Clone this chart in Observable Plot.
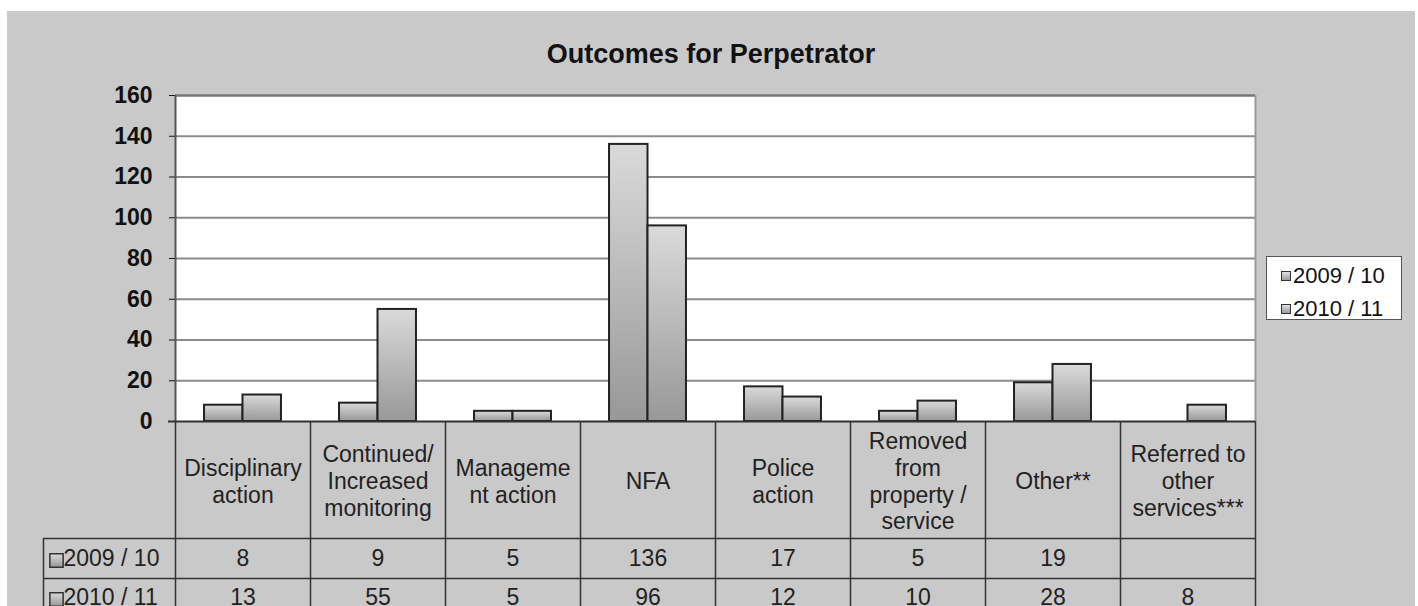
<!DOCTYPE html>
<html>
<head>
<meta charset="utf-8">
<script src="https://cdn.jsdelivr.net/npm/d3@7"></script>
<script src="https://cdn.jsdelivr.net/npm/@observablehq/plot@0.6"></script>
<style>
  html, body { margin: 0; padding: 0; background: #fff; width: 1418px; height: 606px; overflow: hidden; }
  #chart { position: absolute; left: 7px; top: 11px; width: 1408px; height: 595px; background: #c9c9c9;
           font-family: "Liberation Sans", Arial, sans-serif; overflow: hidden; }
  #title { height: 60px; box-sizing: border-box; padding-top: 30px; line-height: 26px; text-align: center;
           font-weight: bold; font-size: 27px; color: #111; }
  #legend { position: absolute; left: 1259px; top: 245px; width: 136px; height: 64px; box-sizing: border-box;
            background: #fff; border: 1px solid #555; font-size: 22px; color: #111; }
  #legend .item { position: absolute; left: 14px; height: 24px; display: flex; align-items: center; }
  #legend .sw { width: 8px; height: 8px; border: 1.5px solid #333; background: linear-gradient(#e0e0e0, #9a9a9a); margin-right: 2px; }
  #chart svg [aria-label^="y-axis"] text { font-weight: bold; }
</style>
</head>
<body>
<div id="chart">
  <div id="title">Outcomes for Perpetrator</div>
  <div id="plot"></div>
  <div id="legend"></div>
</div>
<script>
// ---- data ----
const categories = ["Disciplinary action", "Continued/Increased monitoring", "Management action", "NFA",
                    "Police action", "Removed from property / service", "Other**", "Referred to other services***"];
const headerLabels = ["Disciplinary\naction", "Continued/\nIncreased\nmonitoring", "Manageme\nnt action", "NFA",
                      "Police\naction", "Removed\nfrom\nproperty /\nservice", "Other**", "Referred to\nother\nservices***"];
const seriesNames = ["2009 / 10", "2010 / 11"];
const values2009 = [8, 9, 5, 136, 17, 5, 19, null];
const values2010 = [13, 55, 5, 96, 12, 10, 28, 8];
const yTicks = [0, 20, 40, 60, 80, 100, 120, 140, 160];

// ---- layout ----
const W = 1408, H = 535, ML = 168, MR = 160, MT = 24, MB = 185;
const bw = (W - ML - MR) / categories.length;
const outer = bw * 0.215;
const lineColor = "#333";
const row1 = 144, row2 = 183;

const rows2009 = categories.map((c, i) => ({category: c, value: values2009[i]})).filter(d => d.value != null);
const rows2010 = categories.map((c, i) => ({category: c, value: values2010[i]})).filter(d => d.value != null);
const fmt = v => v == null ? "" : String(v);

const defs = () => {
  const d = d3.create("svg:defs");
  const g = d.append("linearGradient").attr("id", "barGrad").attr("x1", 0).attr("y1", 0).attr("x2", 0).attr("y2", 1);
  g.append("stop").attr("offset", "0%").attr("stop-color", "#dadada");
  g.append("stop").attr("offset", "100%").attr("stop-color", "#989898");
  return d.node();
};

const first = categories[0], last = categories[categories.length - 1];

const plot = Plot.plot({
  width: W, height: H,
  marginLeft: ML, marginRight: MR, marginTop: MT, marginBottom: MB,
  style: {background: "transparent", fontFamily: "'Liberation Sans', Arial, sans-serif", fontSize: "23px", color: "#111", overflow: "visible"},
  x: {type: "band", domain: categories, padding: 0, axis: null},
  y: {domain: [0, 160], ticks: yTicks, tickSize: 6, tickPadding: 17, label: null, tickFormat: d3.format("d")},
  marks: [
    defs,
    Plot.frame({fill: "white", stroke: "none"}),
    Plot.ruleY(yTicks.filter(t => t > 0 && t < 160), {stroke: "#8c8c8c", strokeWidth: 2}),
    Plot.ruleY([160], {stroke: "#777", strokeWidth: 2.5}),
    Plot.ruleX([last], {x: d => d, dx: bw / 2, y1: 0, y2: 160, stroke: "#999", strokeWidth: 2}),
    Plot.ruleX([first], {x: d => d, dx: -bw / 2, y1: 0, y2: 160, stroke: "#555", strokeWidth: 2}),
    // bars
    Plot.barY(rows2009, {x: "category", y: "value", fill: "url(#barGrad)", stroke: "#222", strokeWidth: 2,
                         insetLeft: outer, insetRight: bw / 2}),
    Plot.barY(rows2010, {x: "category", y: "value", fill: "url(#barGrad)", stroke: "#222", strokeWidth: 2,
                         insetLeft: bw / 2, insetRight: outer}),
    // data table
    Plot.ruleY([0], {stroke: lineColor, strokeWidth: 2, insetLeft: -7}),
    Plot.ruleX(categories, {x: d => d, dx: -bw / 2, y1: 0, y2: -120, stroke: lineColor, strokeWidth: 1.5}),
    Plot.ruleX([last], {x: d => d, dx: bw / 2, y1: 0, y2: -120, stroke: lineColor, strokeWidth: 1.5}),
    Plot.ruleX([first], {x: d => d, dx: -bw / 2 - 132, y1: 0, y2: -120, dy: 117, stroke: lineColor, strokeWidth: 1.5}),
    Plot.ruleY([0], {dy: 117, insetLeft: -132, stroke: lineColor, strokeWidth: 1.5}),
    Plot.ruleY([0], {dy: 157, insetLeft: -132, stroke: lineColor, strokeWidth: 1.5}),
    Plot.text(categories, {x: d => d, text: (d, i) => headerLabels[i], frameAnchor: "bottom", dy: 59,
                           lineAnchor: "middle", lineHeight: 1.17, fill: "#222"}),
    Plot.text(categories, {x: d => d, text: (d, i) => fmt(values2009[i]), frameAnchor: "bottom", dy: row1, fill: "#222"}),
    Plot.text(categories, {x: d => d, text: (d, i) => fmt(values2010[i]), frameAnchor: "bottom", dy: row2, fill: "#222"}),
    Plot.text([seriesNames[0]], {text: d => d, frameAnchor: "bottom-left", dx: -112, dy: row1, textAnchor: "start", fill: "#222"}),
    Plot.text([seriesNames[1]], {text: d => d, frameAnchor: "bottom-left", dx: -112, dy: row2, textAnchor: "start", fill: "#222"}),
    Plot.dot([seriesNames[0]], {frameAnchor: "bottom-left", dx: -119, dy: row1 - 5, symbol: "square", r: 7.5,
                                fill: "url(#barGrad)", stroke: "#333", strokeWidth: 1.5}),
    Plot.dot([seriesNames[1]], {frameAnchor: "bottom-left", dx: -119, dy: row2 - 5, symbol: "square", r: 7.5,
                                fill: "url(#barGrad)", stroke: "#333", strokeWidth: 1.5})
  ]
});
document.getElementById("plot").appendChild(plot);

// legend
const legend = document.getElementById("legend");
seriesNames.forEach((s, i) => {
  const item = document.createElement("div");
  item.className = "item";
  item.style.top = (7 + i * 33) + "px";
  const sw = document.createElement("span"); sw.className = "sw";
  const t = document.createElement("span"); t.textContent = s;
  item.appendChild(sw); item.appendChild(t);
  legend.appendChild(item);
});
</script>
</body>
</html>
